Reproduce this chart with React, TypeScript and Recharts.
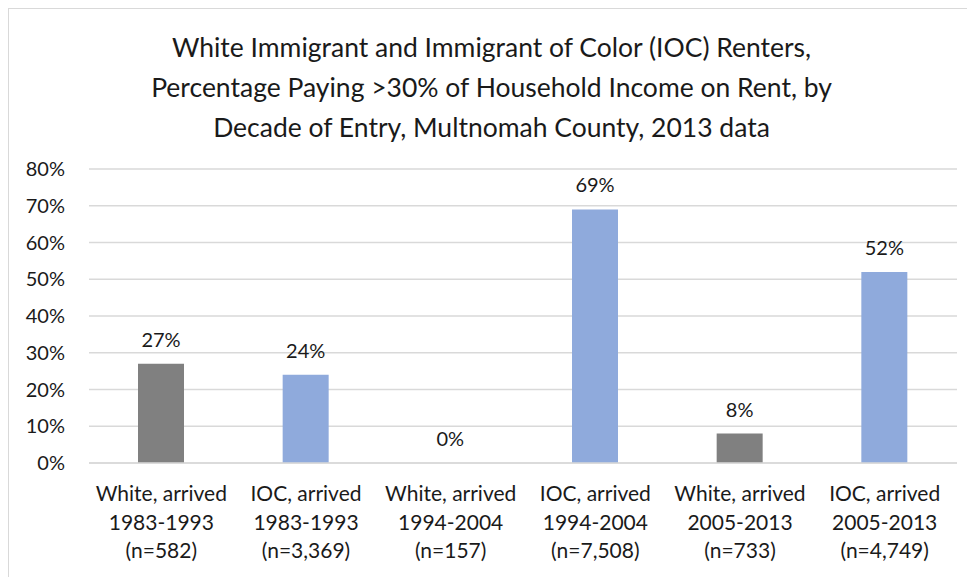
import React from 'react';
import { BarChart, Bar, XAxis, YAxis, CartesianGrid, Cell, LabelList } from 'recharts';

const groups = ['White', 'IOC', 'White', 'IOC', 'White', 'IOC'];
const periods = ['1983-1993', '1983-1993', '1994-2004', '1994-2004', '2005-2013', '2005-2013'];
const sampleSizes = ['582', '3,369', '157', '7,508', '733', '4,749'];
const shares = [27, 24, 0, 69, 8, 52];
const yTicks = [0, 10, 20, 30, 40, 50, 60, 70, 80];

const groupColors: Record<string, string> = {
  White: '#808080',
  IOC: '#8faadc',
};

const data = groups.map((g, i) => ({
  name: `${g}, arrived ${periods[i]}`,
  group: g,
  period: periods[i],
  n: sampleSizes[i],
  value: shares[i],
}));

const font = 'Lato, "Open Sans", sans-serif';

function CategoryTick(props: any) {
  const { x, y, payload } = props;
  const d = data[payload.index];
  return (
    <text x={x} y={y} textAnchor="middle" fill="#1a1a1a" fontSize={21} fontFamily={font}>
      <tspan x={x} dy={30}>{`${d.group}, arrived`}</tspan>
      <tspan x={x} dy={28.5}>{d.period}</tspan>
      <tspan x={x} dy={28.5}>{`(n=${d.n})`}</tspan>
    </text>
  );
}

function ValueLabel(props: any) {
  const { x, y, width, height, value } = props;
  // measure from the bar top (zero bars get a 1px stub, so use bottom - value height)
  const top = value === 0 ? y + height : y;
  return (
    <text x={x + width / 2} y={top - 17} textAnchor="middle" fill="#1a1a1a" fontSize={20} fontFamily={font}>
      {`${value}%`}
    </text>
  );
}

export default function App() {
  return (
    <div
      style={{
        position: 'relative',
        width: 967,
        height: 580,
        border: '1px solid #d9d9d9',
        boxSizing: 'border-box',
        background: '#fff',
        fontFamily: font,
      }}
    >
      <div
        style={{
          position: 'absolute',
          left: 0,
          right: 0,
          top: 18,
          textAlign: 'center',
          fontSize: 26.5,
          lineHeight: '40px',
          color: '#1a1a1a',
        }}
      >
        White Immigrant and Immigrant of Color (IOC) Renters,
        <br />
        Percentage Paying &gt;30% of Household Income on Rent, by
        <br />
        Decade of Entry, Multnomah County, 2013 data
      </div>
      <BarChart
        width={965}
        height={578}
        data={data}
        margin={{ top: 160, right: 17, bottom: 24, left: 0 }}
        barCategoryGap={0}
      >
        <CartesianGrid vertical={false} stroke="#d9d9d9" strokeWidth={1.5} />
        <YAxis
          domain={[0, 80]}
          ticks={yTicks}
          interval={0}
          width={80}
          axisLine={false}
          tickLine={false}
          tickMargin={18}
          tickFormatter={(v: number) => `${v}%`}
          tick={{ fill: '#1a1a1a', fontSize: 20, fontFamily: font }}
        />
        <XAxis
          dataKey="name"
          interval={0}
          height={100}
          axisLine={{ stroke: '#d9d9d9', strokeWidth: 1.5 }}
          tickLine={false}
          tick={<CategoryTick />}
        />
        <Bar dataKey="value" barSize={46} minPointSize={1} isAnimationActive={false}>
          {data.map((d, i) => (
            <Cell key={i} fill={d.value === 0 ? 'none' : groupColors[d.group]} />
          ))}
          <LabelList dataKey="value" content={<ValueLabel />} />
        </Bar>
      </BarChart>
    </div>
  );
}
